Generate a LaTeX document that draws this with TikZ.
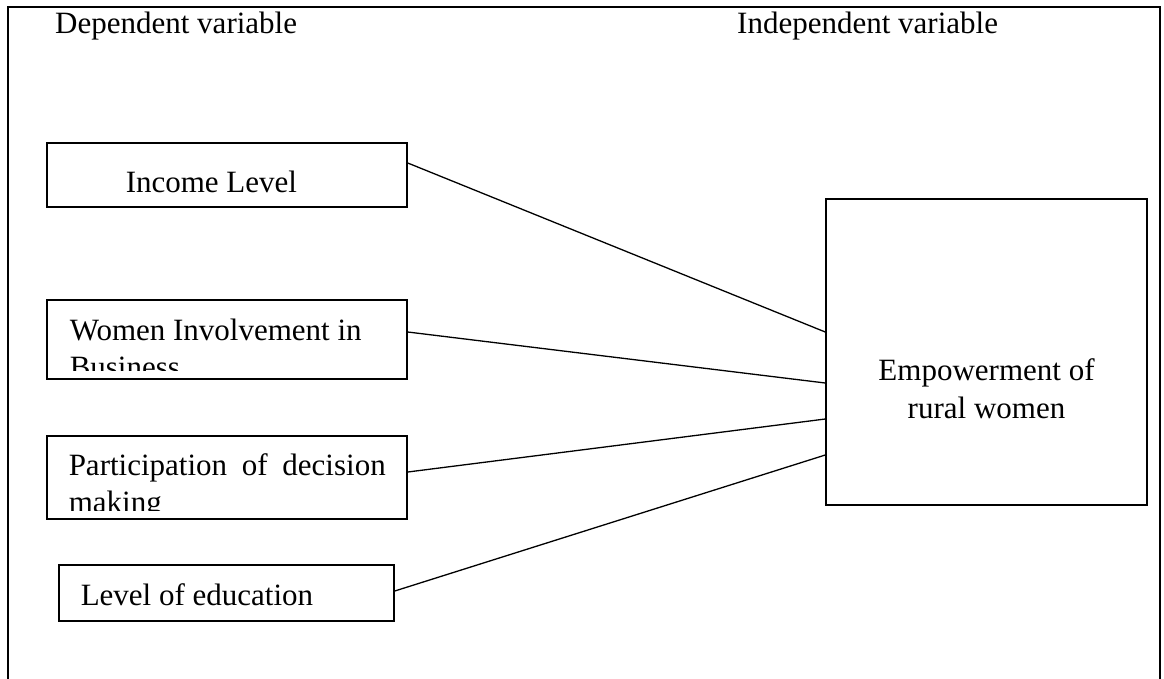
\documentclass[tikz,border=0pt]{standalone}
\usepackage{fontspec}
\setmainfont{Liberation Serif}

\begin{document}
\begin{tikzpicture}[x=1pt, y=-1pt,
    font=\fontsize{31}{37}\selectfont,
    varbox/.style ={draw, line width=1.5pt, inner sep=0pt},
    % text set inside a box, cut off at its lower margin (#2 = last baseline)
    boxtext/.style n args={3}{path picture={
        \clip ([yshift=9pt]path picture bounding box.south west) rectangle (path picture bounding box.north east);
        \node[anchor=base west, inner sep=0pt, minimum width=0pt, minimum height=0pt, align=left]
          at ([xshift=#1pt, yshift=-#2pt]path picture bounding box.north west) {#3};}},
    midtext/.style n args={2}{path picture={
        \node[anchor=base, inner sep=0pt, minimum width=0pt, minimum height=0pt, align=center,
          font=\fontsize{31}{38}\selectfont]
          at ([yshift=-#1pt]path picture bounding box.north) {#2};}},
    head/.style ={anchor=base west, inner sep=0pt},
    link/.style ={line width=1.3pt}]
   \useasboundingbox (0,0) rectangle (1164,678);
   \draw[line width=1.5pt] (8,700) -- (8,7) -- (1160,7) -- (1160,700);
   \node[head] (dep) at (55,33) {Dependent variable};
   \node[head] (indep) at (737,33) {Independent variable};
   \node[varbox, minimum width=360, minimum height=64, boxtext={78}{49}{Income Level}] (inc) at (227,175) {};
   \node[varbox, minimum width=360, minimum height=79, boxtext={22}{77}{Women Involvement in\\Business}] (women) at (227,339.5) {};
   \node[varbox, minimum width=360, minimum height=83, boxtext={21}{76}{\makebox[317pt][s]{Participation of decision}\\making}] (part) at (227,477.5) {};
   \node[varbox, minimum width=335, minimum height=56, boxtext={21}{40}{Level of education}] (edu) at (226.5,593) {};
   \node[varbox, minimum width=321, minimum height=306, midtext={219}{Empowerment of\\rural women}] (emp) at (986.5,352) {};
   \draw[link] ([yshift=12pt]inc.east) -- ([yshift=20pt]emp.west);
   \draw[link] ([yshift=7.5pt]women.east) -- ([yshift=-31pt]emp.west);
   \draw[link] ([yshift=5.5pt]part.east) -- ([yshift=-67pt]emp.west);
   \draw[link] ([yshift=2pt]edu.east) -- ([yshift=-103pt]emp.west);
\end{tikzpicture}
\end{document}
